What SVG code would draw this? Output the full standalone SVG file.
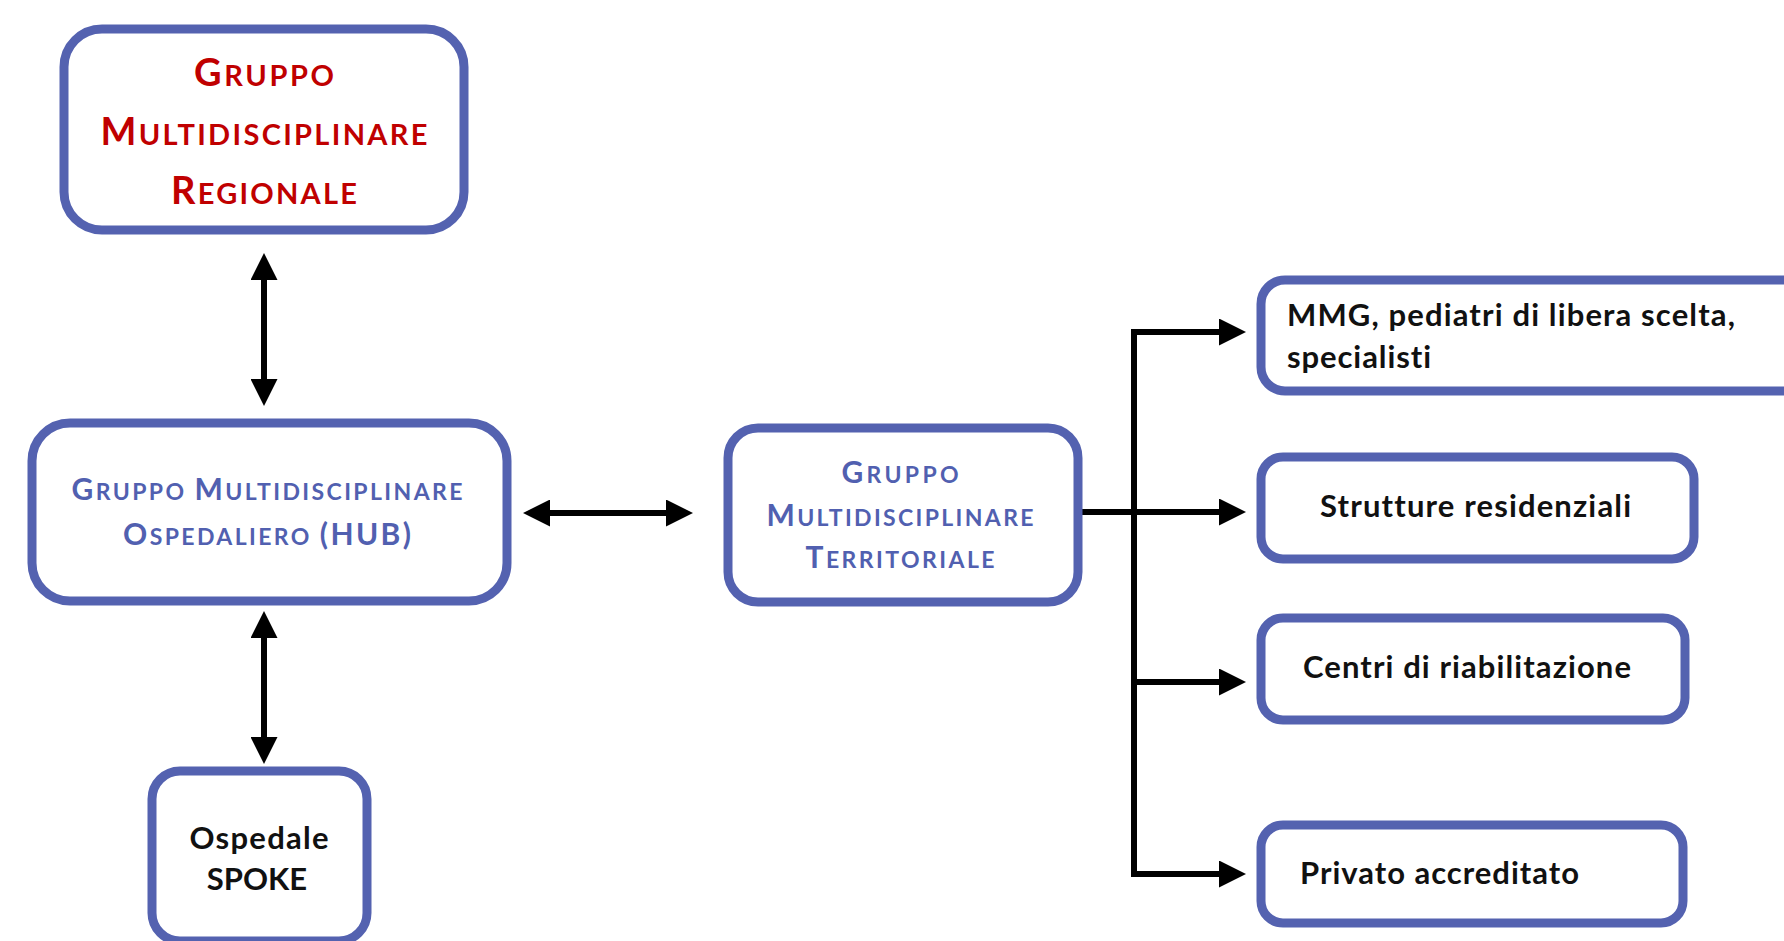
<svg xmlns="http://www.w3.org/2000/svg" width="1784" height="941" viewBox="0 0 1784 941">
<defs>
<style>
text{font-variant-ligatures:none}
.box{fill:#ffffff;stroke:#5462B0;stroke-width:9}
.red{fill:#C00000;font-family:Lato,"Liberation Sans",sans-serif;font-weight:700}
.blue{fill:#5160B0;font-family:Lato,"Liberation Sans",sans-serif;font-weight:700}
.blk{fill:#111111;font-family:Lato,"Liberation Sans",sans-serif;font-weight:700;font-size:31px}
.con{fill:none;stroke:#000000;stroke-width:6}
</style>
<marker id="ah" viewBox="0 0 27 27" markerWidth="27" markerHeight="27" markerUnits="userSpaceOnUse" refX="2" refY="13.5" orient="auto-start-reverse">
<path d="M0,0 L27,13.5 L0,27 Z" fill="#000000"/>
</marker>
</defs>
<rect width="1784" height="941" fill="#ffffff"/>

<g id="connectors">
<line class="con" x1="264" y1="278" x2="264" y2="381" marker-start="url(#ah)" marker-end="url(#ah)"/>
<line class="con" x1="264" y1="636" x2="264" y2="739" marker-start="url(#ah)" marker-end="url(#ah)"/>
<line class="con" x1="548" y1="513" x2="668" y2="513" marker-start="url(#ah)" marker-end="url(#ah)"/>
<line class="con" x1="1082" y1="512" x2="1134" y2="512"/>
<polyline class="con" points="1221,332 1134,332 1134,874 1221,874" marker-start="url(#ah)" marker-end="url(#ah)"/>
<line class="con" x1="1134" y1="512" x2="1221" y2="512" marker-end="url(#ah)"/>
<line class="con" x1="1134" y1="682" x2="1221" y2="682" marker-end="url(#ah)"/>
</g>

<g id="regionale">
<rect class="box" x="64" y="29" width="400" height="201" rx="38"/>
<text class="red" x="264" y="86" text-anchor="middle" textLength="140"><tspan font-size="38">G</tspan><tspan font-size="29">RUPPO</tspan></text>
<text class="red" x="264" y="145" text-anchor="middle" textLength="327"><tspan font-size="38">M</tspan><tspan font-size="29">ULTIDISCIPLINARE</tspan></text>
<text class="red" x="264" y="204" text-anchor="middle" textLength="186"><tspan font-size="38">R</tspan><tspan font-size="29">EGIONALE</tspan></text>
</g>

<g id="hub">
<rect class="box" x="32" y="423" width="475" height="178" rx="38"/>
<text class="blue" x="267" y="500" text-anchor="middle" textLength="391"><tspan font-size="30">G</tspan><tspan font-size="23">RUPPO </tspan><tspan font-size="30">M</tspan><tspan font-size="23">ULTIDISCIPLINARE</tspan></text>
<text class="blue" x="267" y="545" text-anchor="middle" textLength="288"><tspan font-size="30">O</tspan><tspan font-size="23">SPEDALIERO </tspan><tspan font-size="30">(HUB)</tspan></text>
</g>

<g id="territoriale">
<rect class="box" x="728" y="428" width="350" height="174" rx="30"/>
<text class="blue" x="900" y="483" text-anchor="middle" textLength="117"><tspan font-size="30">G</tspan><tspan font-size="23">RUPPO</tspan></text>
<text class="blue" x="900" y="526" text-anchor="middle" textLength="267"><tspan font-size="30">M</tspan><tspan font-size="23">ULTIDISCIPLINARE</tspan></text>
<text class="blue" x="900" y="568" text-anchor="middle" textLength="189"><tspan font-size="30">T</tspan><tspan font-size="23">ERRITORIALE</tspan></text>
</g>

<g id="spoke">
<rect class="box" x="152" y="771" width="215" height="170" rx="28"/>
<text class="blk" x="259" y="849" text-anchor="middle" textLength="139">Ospedale</text>
<text class="blk" x="257" y="890" text-anchor="middle" font-size="29">SPOKE</text>
</g>

<g id="mmg">
<rect class="box" x="1261" y="280" width="560" height="111" rx="24"/>
<text class="blk" x="1287" y="326" textLength="448">MMG, pediatri di libera scelta,</text>
<text class="blk" x="1287" y="368" textLength="144">specialisti</text>
</g>

<g id="strutture">
<rect class="box" x="1261" y="457" width="433" height="102" rx="22"/>
<text class="blk" x="1320" y="517" textLength="311">Strutture residenziali</text>
</g>

<g id="centri">
<rect class="box" x="1261" y="618" width="424" height="102" rx="22"/>
<text class="blk" x="1303" y="678" textLength="328">Centri di riabilitazione</text>
</g>

<g id="privato">
<rect class="box" x="1261" y="825" width="422" height="98" rx="22"/>
<text class="blk" x="1300" y="884" textLength="279">Privato accreditato</text>
</g>
</svg>
